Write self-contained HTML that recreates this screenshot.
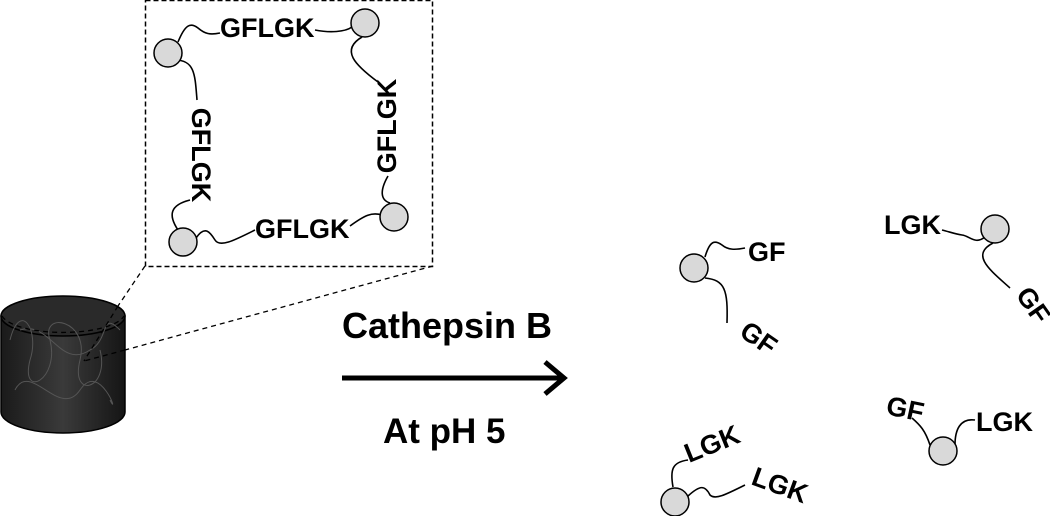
<!DOCTYPE html>
<html><head><meta charset="utf-8"><style>
html,body{margin:0;padding:0;background:#fff;}
svg{display:block;}
text{font-family:"Liberation Sans",Arial,sans-serif;font-weight:bold;fill:#000;}
</style></head><body>
<svg width="1050" height="516" viewBox="0 0 1050 516" xmlns="http://www.w3.org/2000/svg">
<defs>
<linearGradient id="cyl" x1="0" x2="1" y1="0" y2="0">
<stop offset="0" stop-color="#1a1a1a"/><stop offset="0.5" stop-color="#3a3a3a"/><stop offset="1" stop-color="#151515"/>
</linearGradient>
</defs>
<rect x="145.5" y="0.5" width="287" height="266" fill="none" stroke="#000" stroke-width="1.5" stroke-dasharray="5,3"/>
<path d="M1,316 L1,412 A62,21 0 0 0 125,412 L125,316 Z" fill="url(#cyl)" stroke="#000" stroke-width="1.5"/>
<ellipse cx="63" cy="316" rx="62" ry="20" fill="#2a2a2a" stroke="#000" stroke-width="1.5"/>
<g fill="none" stroke="#555" stroke-width="1">
<path d="M10,340 C20,300 40,330 30,360 C20,400 60,380 50,340 C40,310 90,320 80,360 C70,400 110,390 100,350"/>
<path d="M15,390 C30,360 60,420 80,390 C100,360 120,420 110,400"/>
<path d="M20,330 C50,320 60,370 90,350 C110,340 100,310 120,330"/>
</g>
<g stroke="#000" stroke-width="1.3" stroke-dasharray="5,4" fill="none">
<line x1="145" y1="266" x2="118" y2="306"/>
<line x1="433" y1="266" x2="125" y2="350"/>
<line x1="118" y1="306" x2="84" y2="361"/>
<line x1="125" y1="350" x2="84" y2="361"/>
<path d="M2,316 A62,20 0 0 0 124,316"/>
</g>
<g fill="none" stroke="#000" stroke-width="1.6">
<path d="M178,42 C185,25 190,22 198,28 C205,34 210,35 220,33"/>
<path d="M315,30 C330,33 345,32 352,27"/>
<path d="M362,37 C340,50 355,65 378,82"/>
<path d="M175,60 C195,60 195,75 197,100"/>
<path d="M190,200 C170,205 168,215 178,230"/>
<path d="M196,238 C205,225 210,232 215,240 C220,248 235,240 255,230"/>
<path d="M350,226 C365,215 372,212 382,215"/>
<path d="M388,176 C380,190 380,200 390,203"/>
</g>
<g fill="#d9d9d9" stroke="#000" stroke-width="1.5">
<circle cx="168" cy="53" r="14"/><circle cx="365" cy="23" r="14"/>
<circle cx="394" cy="217" r="14"/><circle cx="183" cy="242" r="14"/>
</g>
<text x="220" y="37" font-size="27">GFLGK</text>
<text x="255" y="238" font-size="27">GFLGK</text>
<text font-size="27" text-anchor="middle" transform="translate(192,155) rotate(90)">GFLGK</text>
<text font-size="27" text-anchor="middle" transform="translate(396,126) rotate(-90)">GFLGK</text>
<text x="342" y="338" font-size="36">Cathepsin B</text>
<line x1="342" y1="378" x2="562" y2="378" stroke="#000" stroke-width="5"/>
<polyline points="545,362 564,378 545,394" fill="none" stroke="#000" stroke-width="5"/>
<text x="383" y="443" font-size="35">At pH 5</text>
<g fill="none" stroke="#000" stroke-width="1.6">
<path d="M705,257 C710,240 715,240 722,245 C728,250 735,250 745,248"/>
<path d="M705,278 C725,280 728,290 727,323"/>
<path d="M985,237 C975,245 970,236 962,235 C955,234 950,232 942,230"/>
<path d="M993,243 C970,255 990,270 1010,288"/>
<path d="M930,445 C925,430 920,425 912,418"/>
<path d="M955,445 C955,430 960,418 975,420"/>
<path d="M673,487 C670,470 672,462 688,460"/>
<path d="M688,496 C700,485 705,485 710,495 C715,500 725,495 745,485"/>
</g>
<g fill="#d9d9d9" stroke="#000" stroke-width="1.5">
<circle cx="694" cy="268" r="14"/><circle cx="995" cy="229" r="14"/>
<circle cx="943" cy="451" r="14"/><circle cx="675" cy="502" r="14"/>
</g>
<text x="748" y="261" font-size="27">GF</text>
<text font-size="27" transform="translate(738,335) rotate(35)">GF</text>
<text x="884" y="234" font-size="27">LGK</text>
<text font-size="27" transform="translate(1015,295) rotate(55)">GF</text>
<text font-size="27" transform="translate(885,414) rotate(12)">GF</text>
<text x="976" y="431" font-size="27">LGK</text>
<text font-size="27" transform="translate(689,463) rotate(-22)">LGK</text>
<text font-size="27" transform="translate(750,484) rotate(20)">LGK</text>
</svg>
</body></html>
